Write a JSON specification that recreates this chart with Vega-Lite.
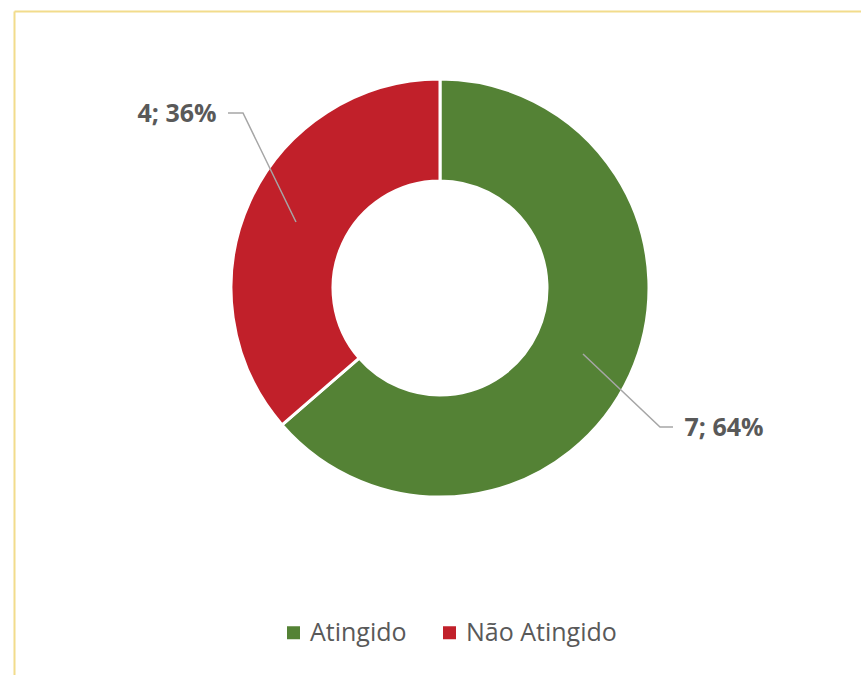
{
  "$schema": "https://vega.github.io/schema/vega-lite/v6.json",
  "autosize": {"type": "none"},
  "padding": {"left": 14, "top": 11, "right": 0, "bottom": 0},
  "width": 847,
  "height": 664,
  "background": "white",
  "config": {"view": {"stroke": null}, "font": "Open Sans"},
  "datasets": {
    "slices": [
      {"categoria": "Atingido", "valor": 7, "ordem": 1},
      {"categoria": "Não Atingido", "valor": 4, "ordem": 2}
    ],
    "rotulos": [
      {"texto": "4; 36%", "px": -263, "py": 174},
      {"texto": "7; 64%", "px": 284, "py": -140}
    ],
    "guias": [
      {"guia": "a", "p": 1, "px": -212, "py": 175},
      {"guia": "a", "p": 2, "px": -197, "py": 175},
      {"guia": "a", "p": 3, "px": -144, "py": 66},
      {"guia": "b", "p": 1, "px": 143, "py": -66},
      {"guia": "b", "p": 2, "px": 220, "py": -139},
      {"guia": "b", "p": 3, "px": 233, "py": -139}
    ]
  },
  "layer": [
    {
      "data": {"name": "slices"},
      "mark": {"type": "arc", "radius": 209, "radius2": 107, "stroke": "white", "strokeWidth": 3, "x": 426, "y": 277},
      "encoding": {
        "theta": {"field": "valor", "type": "quantitative", "stack": true},
        "order": {"field": "ordem"},
        "color": {
          "field": "categoria", "type": "nominal",
          "scale": {"domain": ["Atingido", "Não Atingido"], "range": ["#548235", "#C1202A"]},
          "legend": {
            "title": null, "orient": "none", "direction": "horizontal",
            "legendX": 267, "legendY": 609, "padding": 0,
            "symbolType": "square", "symbolSize": 169, "symbolStrokeWidth": 0,
            "labelFontSize": 25, "labelColor": "#595959", "labelFont": "Open Sans",
            "labelOffset": 4, "columnPadding": 30
          }
        }
      }
    },
    {
      "data": {"name": "guias"},
      "mark": {"type": "line", "color": "#A6A6A6", "strokeWidth": 1.5},
      "encoding": {
        "x": {"field": "px", "type": "quantitative", "scale": {"domain": [-426, 421], "nice": false, "zero": false},
              "axis": {"orient": "top", "title": null, "labels": false, "ticks": false, "grid": false, "domainColor": "#F2DC8C", "domainWidth": 2}},
        "y": {"field": "py", "type": "quantitative", "scale": {"domain": [-387, 277], "nice": false, "zero": false},
              "axis": {"orient": "left", "title": null, "labels": false, "ticks": false, "grid": false, "domainColor": "#F2DC8C", "domainWidth": 2}},
        "detail": {"field": "guia"},
        "order": {"field": "p"}
      }
    },
    {
      "data": {"name": "rotulos"},
      "mark": {"type": "text", "fontSize": 25, "fontWeight": "bold", "color": "#595959", "align": "center", "baseline": "middle", "font": "Open Sans"},
      "encoding": {
        "x": {"field": "px", "type": "quantitative"},
        "y": {"field": "py", "type": "quantitative"},
        "text": {"field": "texto"}
      }
    }
  ]
}
